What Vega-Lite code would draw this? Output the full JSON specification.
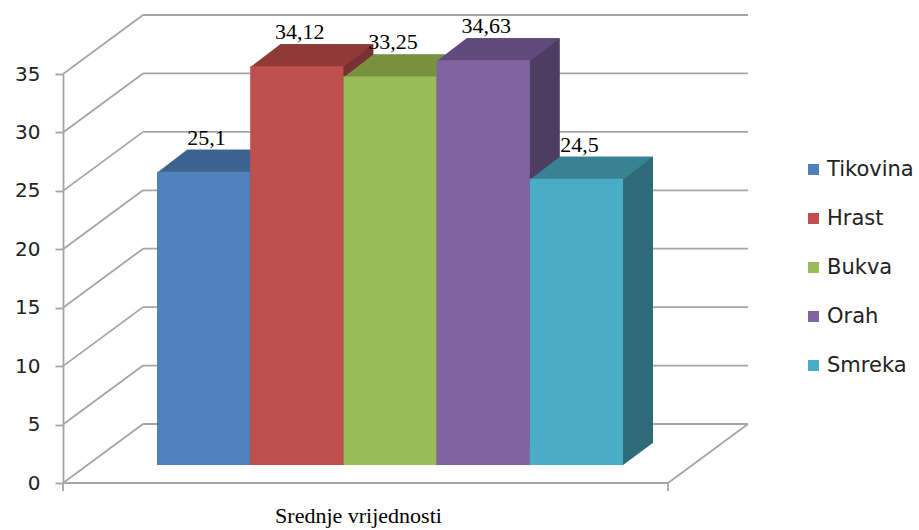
{
  "$schema": "https://vega.github.io/schema/vega-lite/v6.json",
  "width": 685,
  "height": 409,
  "autosize": "none",
  "padding": {"left": 63, "top": 74, "right": 171, "bottom": 47},
  "background": "white",
  "config": {
    "view": {"stroke": null},
    "axis": {"grid": false},
    "axisY": {"domainColor": "#a5a5a5", "domainWidth": 1.8, "tickColor": "#a5a5a5", "tickWidth": 1.8, "tickSize": 8, "labelFont": "DejaVu Sans", "labelFontSize": 20, "labelColor": "#222222", "labelPadding": 15}
  },
  "datasets": {
    "wood": [
      {"group": "Srednje vrijednosti", "species": "Tikovina", "value": 25.1, "label": "25,1"},
      {"group": "Srednje vrijednosti", "species": "Hrast", "value": 34.12, "label": "34,12"},
      {"group": "Srednje vrijednosti", "species": "Bukva", "value": 33.25, "label": "33,25"},
      {"group": "Srednje vrijednosti", "species": "Orah", "value": 34.63, "label": "34,63"},
      {"group": "Srednje vrijednosti", "species": "Smreka", "value": 24.5, "label": "24,5"}
    ],
    "grid": [{"v": 0}, {"v": 5}, {"v": 10}, {"v": 15}, {"v": 20}, {"v": 25}, {"v": 30}, {"v": 35}],
    "one": [{"k": 1}]
  },
  "layer": [
    {
      "data": {"name": "grid"},
      "mark": {"type": "rule", "color": "#a5a5a5", "strokeWidth": 1.8, "yOffset": -59, "y2Offset": -59},
      "encoding": {
        "x": {"datum": 0.1168, "type": "quantitative", "scale": {"domain": [0, 1], "nice": false, "zero": false}, "axis": null},
        "x2": {"datum": 1},
        "y": {"field": "v", "type": "quantitative", "scale": {"domain": [0, 35], "nice": false}, "axis": {"title": null}},
        "y2": {"field": "v"}
      }
    },
    {
      "data": {"name": "grid"},
      "mark": {"type": "rule", "color": "#a5a5a5", "strokeWidth": 1.8, "y2Offset": -59},
      "encoding": {
        "x": {"datum": 0, "type": "quantitative", "scale": {"domain": [0, 1], "nice": false, "zero": false}, "axis": null},
        "x2": {"datum": 0.1168},
        "y": {"field": "v", "type": "quantitative", "scale": {"domain": [0, 35], "nice": false}, "axis": {"title": null}},
        "y2": {"field": "v"}
      }
    },
    {
      "data": {"name": "one"},
      "mark": {"type": "rule", "color": "#a5a5a5", "strokeWidth": 1.8},
      "encoding": {
        "x": {"datum": 0, "type": "quantitative", "scale": {"domain": [0, 1], "nice": false, "zero": false}, "axis": null},
        "x2": {"datum": 0.8832},
        "y": {"datum": 0, "type": "quantitative", "scale": {"domain": [0, 35], "nice": false}, "axis": {"title": null}},
        "y2": {"datum": 0}
      }
    },
    {
      "data": {"name": "one"},
      "mark": {"type": "rule", "color": "#a5a5a5", "strokeWidth": 1.8, "y2Offset": -59},
      "encoding": {
        "x": {"datum": 0.8832, "type": "quantitative", "scale": {"domain": [0, 1], "nice": false, "zero": false}, "axis": null},
        "x2": {"datum": 1},
        "y": {"datum": 0, "type": "quantitative", "scale": {"domain": [0, 35], "nice": false}, "axis": {"title": null}},
        "y2": {"datum": 0}
      }
    },
    {
      "data": {"name": "one"},
      "mark": {"type": "rule", "color": "#a5a5a5", "strokeWidth": 1.8, "y2Offset": 8},
      "encoding": {
        "x": {"datum": 0, "type": "quantitative", "scale": {"domain": [0, 1], "nice": false, "zero": false}, "axis": null},
        "y": {"datum": 0, "type": "quantitative", "scale": {"domain": [0, 35], "nice": false}, "axis": {"title": null}},
        "y2": {"datum": 0}
      }
    },
    {
      "data": {"name": "one"},
      "mark": {"type": "rule", "color": "#a5a5a5", "strokeWidth": 1.8, "y2Offset": 8},
      "encoding": {
        "x": {"datum": 0.8832, "type": "quantitative", "scale": {"domain": [0, 1], "nice": false, "zero": false}, "axis": null},
        "y": {"datum": 0, "type": "quantitative", "scale": {"domain": [0, 35], "nice": false}, "axis": {"title": null}},
        "y2": {"datum": 0}
      }
    },
    {
      "data": {"name": "wood"},
      "mark": {"type": "bar", "xOffset": 30, "x2Offset": 30, "yOffset": -40, "y2Offset": -40},
      "encoding": {
        "x": {"field": "species", "type": "nominal", "sort": ["Tikovina", "Hrast", "Bukva", "Orah", "Smreka"], "scale": {"type": "band", "range": [94, 560], "paddingInner": 0, "paddingOuter": 0}, "axis": null},
        "y": {"field": "value", "type": "quantitative", "scale": {"domain": [0, 35], "nice": false}, "axis": {"title": null}},
        "color": {"field": "species", "type": "nominal", "scale": {"domain": ["Tikovina", "Hrast", "Bukva", "Orah", "Smreka"], "range": ["#2f4e73", "#773130", "#5e7336", "#4e3d63", "#2e6b78"]}, "legend": null}
      }
    },
    {
      "data": {"name": "wood"},
      "mark": {"type": "point", "shape": "M46,0.5L77.1,-22.5L46,-22.5Z", "size": 4, "filled": true, "opacity": 1, "strokeWidth": 0, "yOffset": -18},
      "encoding": {
        "x": {"field": "species", "type": "nominal", "sort": ["Tikovina", "Hrast", "Bukva", "Orah", "Smreka"], "scale": {"type": "band", "range": [94, 560], "paddingInner": 0, "paddingOuter": 0}, "axis": null},
        "y": {"datum": 0, "type": "quantitative", "scale": {"domain": [0, 35], "nice": false}, "axis": {"title": null}},
        "color": {"field": "species", "type": "nominal", "scale": {"domain": ["Tikovina", "Hrast", "Bukva", "Orah", "Smreka"], "range": ["#2f4e73", "#773130", "#5e7336", "#4e3d63", "#2e6b78"]}, "legend": null}
      }
    },
    {
      "data": {"name": "wood"},
      "mark": {"type": "point", "shape": "M-46.6,1L46.6,1L76.6,-22L-16.6,-22Z", "size": 4, "filled": true, "opacity": 1, "strokeWidth": 0, "yOffset": -18},
      "encoding": {
        "x": {"field": "species", "type": "nominal", "sort": ["Tikovina", "Hrast", "Bukva", "Orah", "Smreka"], "scale": {"type": "band", "range": [94, 560], "paddingInner": 0, "paddingOuter": 0}, "axis": null},
        "y": {"field": "value", "type": "quantitative", "scale": {"domain": [0, 35], "nice": false}, "axis": {"title": null}},
        "color": {"field": "species", "type": "nominal", "scale": {"domain": ["Tikovina", "Hrast", "Bukva", "Orah", "Smreka"], "range": ["#3d6391", "#8f3a38", "#789141", "#604a7b", "#378293"]}, "legend": null}
      }
    },
    {
      "data": {"name": "wood"},
      "mark": {"type": "bar", "yOffset": -18, "y2Offset": -18},
      "encoding": {
        "x": {"field": "species", "type": "nominal", "sort": ["Tikovina", "Hrast", "Bukva", "Orah", "Smreka"], "scale": {"type": "band", "range": [94, 560], "paddingInner": 0, "paddingOuter": 0}, "axis": {"title": "Srednje vrijednosti", "labels": false, "ticks": false, "domain": false, "titleFont": "Liberation Serif", "titleFontSize": 22, "titleFontWeight": "normal", "titleColor": "#000000", "titleX": 295, "titleY": 39, "titleAlign": "center", "titleBaseline": "alphabetic"}},
        "y": {"field": "value", "type": "quantitative", "scale": {"domain": [0, 35], "nice": false}, "axis": {"title": null}},
        "color": {
          "field": "species", "type": "nominal",
          "scale": {"domain": ["Tikovina", "Hrast", "Bukva", "Orah", "Smreka"], "range": ["#4f81bd", "#c0504d", "#9bbb59", "#8064a2", "#4bacc6"]},
          "legend": {"orient": "none", "legendX": 740, "legendY": 85, "title": null, "symbolType": "square", "symbolSize": 121, "symbolStrokeWidth": 0, "labelFont": "DejaVu Sans", "labelFontSize": 21, "labelColor": "#222222", "rowPadding": 27, "labelOffset": 3, "padding": 0}
        }
      }
    },
    {
      "data": {"name": "wood"},
      "mark": {"type": "text", "yOffset": -18, "dy": -27, "dx": 3, "baseline": "alphabetic", "font": "Liberation Serif", "fontSize": 22, "color": "#000000"},
      "encoding": {
        "x": {"field": "species", "type": "nominal", "sort": ["Tikovina", "Hrast", "Bukva", "Orah", "Smreka"], "scale": {"type": "band", "range": [94, 560], "paddingInner": 0, "paddingOuter": 0}, "axis": null},
        "y": {"field": "value", "type": "quantitative", "scale": {"domain": [0, 35], "nice": false}, "axis": {"title": null}},
        "text": {"field": "label"}
      }
    }
  ],
  "resolve": {"scale": {"x": "independent", "color": "independent"}}
}
